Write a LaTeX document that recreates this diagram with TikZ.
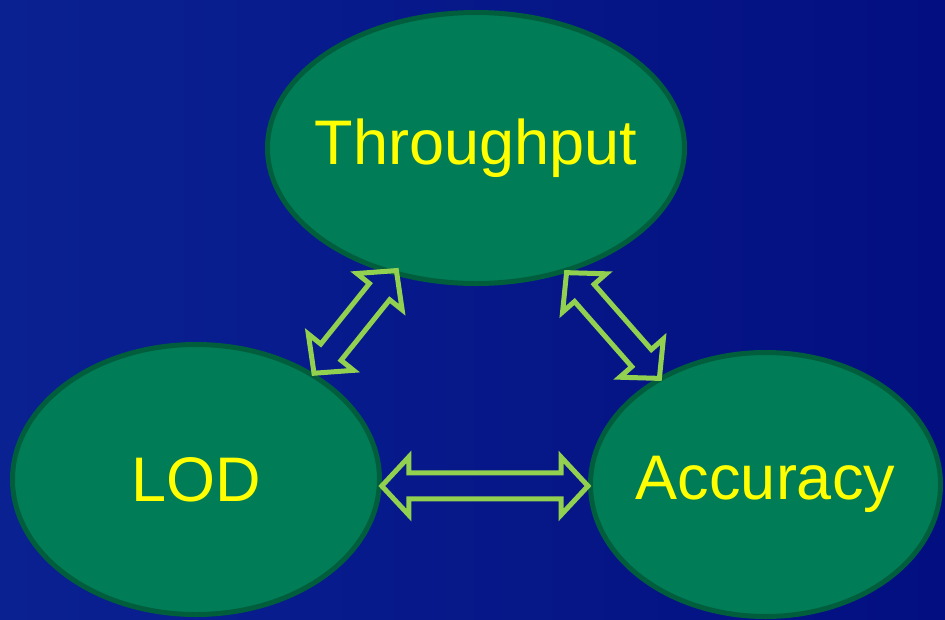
\documentclass[tikz,border=0pt]{standalone}
\usepackage{fontspec}
\setmainfont{Liberation Sans}
\usetikzlibrary{calc,shapes.geometric}

\definecolor{bgLight}{HTML}{0A2192}
\definecolor{bgDark}{HTML}{030F80}
\definecolor{ovalFill}{HTML}{007C57}
\definecolor{ovalLine}{HTML}{005E3D}
\definecolor{arrowLine}{HTML}{92D050}
\definecolor{labelText}{HTML}{FFFF00}

\tikzset{
  topic/.style={ellipse, draw=ovalLine, fill=ovalFill, line width=5pt,
    inner xsep=-20pt, inner ysep=0pt, text=labelText,
    font=\fontsize{63}{70}\selectfont},
  linkarrow/.style={draw=arrowLine, line width=5pt, line join=miter}
}

% Hollow double-headed block arrow from #1 to #2
% (head length 27pt, head half-width 29pt, shaft half-width 13pt)
\newcommand{\linkarrow}[2]{%
  \draw[linkarrow]
    (#1)
    -- ($(#1)!27pt!(#2)!29pt!90:(#2)$)
    -- ($(#1)!27pt!(#2)!13pt!90:(#2)$)
    -- ($(#2)!27pt!(#1)!13pt!-90:(#1)$)
    -- ($(#2)!27pt!(#1)!29pt!-90:(#1)$)
    -- (#2)
    -- ($(#2)!27pt!(#1)!29pt!90:(#1)$)
    -- ($(#2)!27pt!(#1)!13pt!90:(#1)$)
    -- ($(#1)!27pt!(#2)!13pt!-90:(#2)$)
    -- ($(#1)!27pt!(#2)!29pt!-90:(#2)$)
    -- cycle;}

\begin{document}
\begin{tikzpicture}[x=1pt, y=-1pt]
  % backdrop
  \useasboundingbox (0,0) rectangle (945,619);
  \shade[left color=bgLight, right color=bgDark] (0,0) rectangle (945,619);

  % the three topics
  \node[topic, minimum width=417pt, minimum height=271pt] (tput) at (476,148) {Throughput};
  \node[topic, minimum width=367pt, minimum height=270pt] (lod)  at (196,479.5) {LOD};
  \node[topic, minimum width=350pt, minimum height=264pt] (acc)  at (765.5,484.5) {Accuracy};

  % trade-off links, tips resting on the oval borders
  \coordinate (lodUp) at (lod.42.5);
  \coordinate (tputL) at ($(tput.center)!0.965!(tput.237)$);
  \coordinate (tputR) at (tput.306);
  \coordinate (accUp) at ($(acc.center)!0.99!(acc.135.5)$);
  \coordinate (lodR)  at (lod.-2);
  \coordinate (accL)  at (acc.west |- lodR);
  \linkarrow{lodUp}{tputL}
  \linkarrow{tputR}{accUp}
  \linkarrow{lodR}{accL}
\end{tikzpicture}
\end{document}
